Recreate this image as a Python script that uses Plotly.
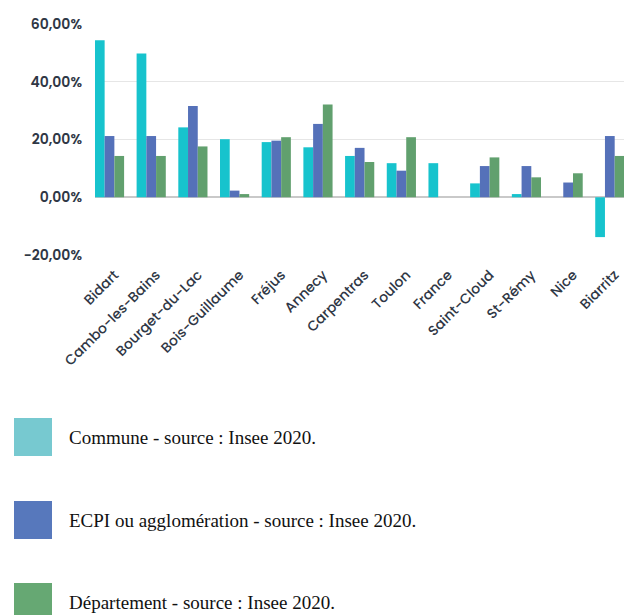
import plotly.graph_objects as go

# Population growth by place, three geographic levels (percent)
categories = ["Bidart", "Cambo-les-Bains", "Bourget-du-Lac", "Bois-Guillaume", "Fréjus",
              "Annecy", "Carpentras", "Toulon", "France", "Saint-Cloud", "St-Rémy", "Nice", "Biarritz"]
commune = [54.4, 49.8, 24.2, 20.1, 19.1, 17.3, 14.3, 11.8, 11.8, 4.8, 1.1, None, -13.8]
epci = [21.2, 21.2, 31.6, 2.3, 19.6, 25.4, 17.1, 9.2, None, 10.8, 10.8, 5.1, 21.2]
departement = [14.3, 14.3, 17.6, 1.1, 20.8, 32.1, 12.2, 20.8, None, 13.8, 6.9, 8.3, 14.3]

series_names = ["Commune - source : Insee 2020.",
                "ECPI ou agglomération - source : Insee 2020.",
                "Département - source : Insee 2020."]
bar_colors = ["#17C3CD", "#5571B9", "#61A06E"]
swatch_colors = ["#77C9D0", "#5778BC", "#66A873"]

W, H = 624, 615

fig = go.Figure()
for name, vals, col in zip(series_names, [commune, epci, departement], bar_colors):
    fig.add_trace(go.Bar(x=categories, y=vals, name=name, marker=dict(color=col, line=dict(width=0)),
                         showlegend=False))

label_family = "Poppins, 'Open Sans', sans-serif"

fig.update_layout(
    width=W, height=H,
    margin=dict(l=0, r=0, t=0, b=0, autoexpand=False),
    paper_bgcolor="white", plot_bgcolor="white",
    barmode="group", bargap=0.30, bargroupgap=0.0,
    separators=", ",
    xaxis=dict(
        domain=[95 / W, 1],
        range=[-0.348, 12.34],
        automargin=False,
        showgrid=False, showline=False, zeroline=False,
        tickangle=-45, tickfont=dict(family=label_family, size=14, color="#2f3745", weight=500),
        ticks="", ticklabelstandoff=8, ticklabelshift=5,
    ),
    yaxis=dict(
        domain=[1 - 255 / H, 1 - 24 / H],
        range=[-20, 60], dtick=20, tick0=0,
        tickformat=".2f", ticksuffix="%",
        automargin=False,
        showgrid=True, gridcolor="#e6e6e6", gridwidth=1,
        zeroline=True, zerolinecolor="#c9c9c9", zerolinewidth=2,
        showline=False, ticks="", ticklabelstandoff=12,
        tickfont=dict(family=label_family, size=14, color="#2f3745", weight=600),
    ),
)

# Legend drawn below the chart: colour swatches with serif captions
row_centers = [437, 520, 602]
for name, col, cy in zip(series_names, swatch_colors, row_centers):
    fig.add_shape(type="rect", xref="paper", yref="paper",
                  x0=14 / W, x1=52 / W, y0=1 - (cy + 19) / H, y1=1 - (cy - 19) / H,
                  fillcolor=col, line=dict(width=0))
    fig.add_annotation(text=name, xref="paper", yref="paper", x=67 / W, y=1 - cy / H,
                       xanchor="left", yanchor="middle", showarrow=False,
                       font=dict(family="Liberation Serif, serif", size=19, color="#111111"))

fig.write_html("out.html")
